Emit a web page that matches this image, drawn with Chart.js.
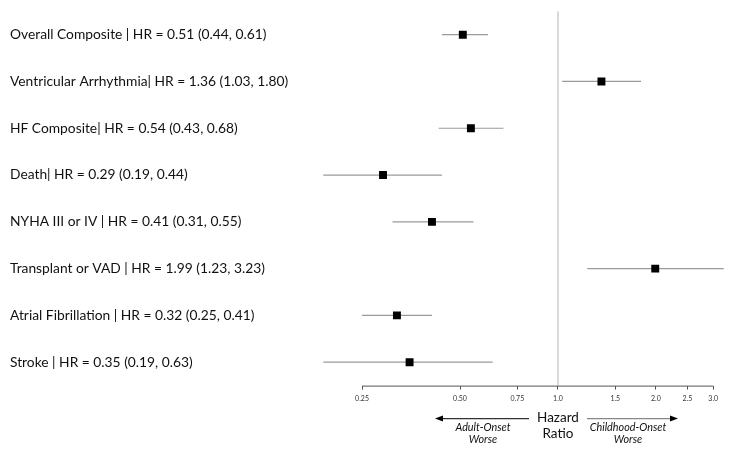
<!DOCTYPE html>
<html>
<head>
<meta charset="utf-8">
<script src="https://cdn.jsdelivr.net/npm/chart.js@4"></script>
<style>
  html, body { margin: 0; padding: 0; background: #fff; }
  #wrap { width: 734px; height: 454px; }
</style>
</head>
<body>
<div id="wrap"><canvas id="forest"></canvas></div>
<script>
// rows, top to bottom
let outcomes = ["Overall Composite | HR = 0.51 (0.44, 0.61)",
                "Ventricular Arrhythmia| HR = 1.36 (1.03, 1.80)",
                "HF Composite| HR = 0.54 (0.43, 0.68)",
                "Death| HR = 0.29 (0.19, 0.44)",
                "NYHA III or IV | HR = 0.41 (0.31, 0.55)",
                "Transplant or VAD | HR = 1.99 (1.23, 3.23)",
                "Atrial Fibrillation | HR = 0.32 (0.25, 0.41)",
                "Stroke | HR = 0.35 (0.19, 0.63)"];
let hr    = [0.51, 1.36, 0.54, 0.29, 0.41, 1.99, 0.32, 0.35];
let lower = [0.44, 1.03, 0.43, 0.19, 0.31, 1.23, 0.25, 0.19];
let upper = [0.61, 1.80, 0.68, 0.44, 0.55, 3.23, 0.41, 0.63];
let tickValues = [0.25, 0.5, 0.75, 1.0, 1.5, 2.0, 2.5, 3.0];
let tickLabels = ["0.25", "0.50", "0.75", "1.0", "1.5", "2.0", "2.5", "3.0"];

const FONT = "Lato, 'Open Sans', sans-serif";

let datasets = [];

// reference line at HR = 1
datasets.push({
    type: 'line',
    order: 3,
    data: [{x: 1, y: -0.5}, {x: 1, y: 7.5}],
    borderColor: '#d9d9d9',
    borderWidth: 2,
    pointRadius: 0,
    showLine: true
});

// confidence intervals
for (let i = 0; i < hr.length; i++) {
    datasets.push({
        type: 'line',
        order: 2,
        data: [{x: lower[i], y: i}, {x: upper[i], y: i}],
        borderColor: '#9a9a9a',
        borderWidth: 1.2,
        pointRadius: 0,
        showLine: true
    });
}

// point estimates
datasets.push({
    type: 'scatter',
    order: 1,
    data: hr.map((v, i) => ({x: v, y: i})),
    pointStyle: 'rect',
    pointRadius: 5.6,
    backgroundColor: '#000',
    borderColor: '#000',
    borderWidth: 0
});

// axis line (only 0.25 .. 3.0) and the labels under it
const extras = {
    id: 'extras',
    afterDraw(chart) {
        const ctx = chart.ctx;
        const xs = chart.scales.x;
        const yb = chart.chartArea.bottom;
        const x0 = xs.getPixelForValue(tickValues[0]);
        const x1 = xs.getPixelForValue(tickValues[tickValues.length - 1]);
        const cx = xs.getPixelForValue(1);
        ctx.save();
        ctx.strokeStyle = '#555';
        ctx.lineWidth = 1;
        ctx.beginPath();
        ctx.moveTo(x0, yb + 0.5);
        ctx.lineTo(x1, yb + 0.5);
        ctx.stroke();

        // Hazard Ratio
        ctx.fillStyle = '#111';
        ctx.textAlign = 'center';
        ctx.textBaseline = 'middle';
        ctx.font = "13.5px " + FONT;
        ctx.fillText("Hazard", cx, yb + 32);
        ctx.fillText("Ratio", cx, yb + 48);

        ctx.font = "italic 10.8px " + FONT;
        ctx.fillStyle = '#111';
        ctx.fillText("Adult-Onset", cx - 75, yb + 42);
        ctx.fillText("Worse", cx - 75, yb + 54);
        ctx.fillText("Childhood-Onset", cx + 70, yb + 42);
        ctx.fillText("Worse", cx + 70, yb + 54);

        // arrows
        const ay = yb + 33;
        ctx.lineWidth = 1.2;
        ctx.strokeStyle = '#333';
        ctx.beginPath();
        ctx.moveTo(cx - 29, ay);
        ctx.lineTo(cx - 118, ay);
        ctx.stroke();
        ctx.strokeStyle = '#888';
        ctx.beginPath();
        ctx.moveTo(cx + 29, ay);
        ctx.lineTo(cx + 115, ay);
        ctx.stroke();
        ctx.fillStyle = '#000';
        ctx.beginPath();
        ctx.moveTo(cx - 123, ay);
        ctx.lineTo(cx - 115, ay - 3);
        ctx.lineTo(cx - 115, ay + 3);
        ctx.closePath();
        ctx.fill();
        ctx.beginPath();
        ctx.moveTo(cx + 120, ay);
        ctx.lineTo(cx + 112, ay - 3);
        ctx.lineTo(cx + 112, ay + 3);
        ctx.closePath();
        ctx.fill();
        ctx.restore();
    }
};

new Chart(document.getElementById('forest'), {
    type: 'scatter',
    data: {datasets: datasets},
    options: {
        responsive: true,
        maintainAspectRatio: false,
        animation: false,
        layout: {padding: {left: 10, right: 6, top: 8, bottom: 46}},
        plugins: {
            legend: {display: false},
            tooltip: {enabled: false}
        },
        scales: {
            x: {
                type: 'logarithmic',
                min: 0.173,
                max: 3.33,
                afterBuildTicks: (scale) => {
                    scale.ticks = tickValues.map(v => ({value: v}));
                },
                grid: {display: true, drawOnChartArea: false, drawTicks: true,
                       tickLength: 4, color: '#555'},
                border: {display: false},
                ticks: {
                    autoSkip: false,
                    maxRotation: 0,
                    padding: 5,
                    color: '#333',
                    font: {family: FONT, size: 7},
                    callback: (v) => {
                        let k = tickValues.indexOf(v);
                        return k >= 0 ? tickLabels[k] : '';
                    }
                }
            },
            y: {
                type: 'linear',
                reverse: true,
                min: -0.5,
                max: 7.5,
                afterBuildTicks: (scale) => {
                    scale.ticks = outcomes.map((_, i) => ({value: i}));
                },
                afterFit: (scale) => { scale.width = 300; },
                grid: {display: false},
                border: {display: false},
                ticks: {
                    crossAlign: 'far',
                    color: '#111',
                    font: {family: FONT, size: 13.8},
                    callback: (v) => outcomes[v]
                }
            }
        }
    },
    plugins: [extras]
});
</script>
</body>
</html>
